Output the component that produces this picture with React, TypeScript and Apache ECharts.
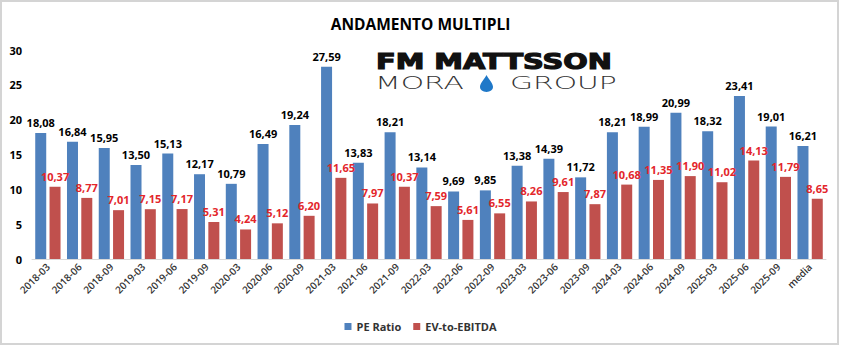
import React, { useEffect, useRef } from "react";
import * as echarts from "echarts";

const categories = [
  "2018-03", "2018-06", "2018-09", "2019-03", "2019-06", "2019-09",
  "2020-03", "2020-06", "2020-09", "2021-03", "2021-06", "2021-09",
  "2022-03", "2022-06", "2022-09", "2023-03", "2023-06", "2023-09",
  "2024-03", "2024-06", "2024-09", "2025-03", "2025-06", "2025-09", "media",
];
const peRatio = [
  18.08, 16.84, 15.95, 13.5, 15.13, 12.17, 10.79, 16.49, 19.24, 27.59, 13.83, 18.21,
  13.14, 9.69, 9.85, 13.38, 14.39, 11.72, 18.21, 18.99, 20.99, 18.32, 23.41, 19.01, 16.21,
];
const evEbitda = [
  10.37, 8.77, 7.01, 7.15, 7.17, 5.31, 4.24, 5.12, 6.2, 11.65, 7.97, 10.37,
  7.59, 5.61, 6.55, 8.26, 9.61, 7.87, 10.68, 11.35, 11.9, 11.02, 14.13, 11.79, 8.65,
];
const seriesNames = ["PE Ratio", "EV-to-EBITDA"];
const titleText = "ANDAMENTO MULTIPLI";

const dropPath =
  "M5,0 C3.5,3.5 0,7 0,10.5 C0,13.3 2.2,15 5,15 C7.8,15 10,13.3 10,10.5 C10,7 6.5,3.5 5,0 Z";

const fmt = (v: number) => v.toFixed(2).replace(".", ",");

export default function App() {
  const ref = useRef<HTMLDivElement>(null);
  useEffect(() => {
    document.body.style.margin = "0";
    try {
      echarts.graphic.registerShape("drop", echarts.graphic.extendPath(dropPath, {}));
    } catch (e) {}
    const chart = echarts.init(ref.current!, null, { renderer: "svg" });
    const font = "'Open Sans', 'Liberation Sans', sans-serif";
    chart.setOption({
      animation: false,
      backgroundColor: "#ffffff",
      title: {
        text: titleText,
        left: "center",
        top: 11,
        textStyle: { fontFamily: font, fontSize: 15.5, fontWeight: "bold", color: "#000" },
      },
      legend: {
        data: seriesNames,
        bottom: 9,
        left: "center",
        itemWidth: 7,
        itemHeight: 7,
        itemGap: 12,
        icon: "rect",
        textStyle: { fontFamily: font, fontSize: 11, fontWeight: "bold", color: "#333" },
      },
      grid: { left: 32, right: 15, top: 50, bottom: 87, containLabel: false },
      xAxis: {
        type: "category",
        data: categories,
        axisLine: { lineStyle: { color: "#d9d9d9", width: 1 } },
        axisTick: { show: false },
        axisLabel: {
          interval: 0,
          rotate: 45,
          fontFamily: font,
          fontSize: 10,
          fontWeight: 600,
          color: "#333",
          margin: 6,
        },
      },
      yAxis: {
        type: "value",
        min: 0,
        max: 30,
        interval: 5,
        splitLine: { show: false },
        axisLine: { show: false },
        axisTick: { show: false },
        axisLabel: { fontFamily: font, fontSize: 11, fontWeight: "bold", color: "#000", margin: 10 },
      },
      series: [
        {
          name: seriesNames[0],
          type: "bar",
          data: peRatio,
          barWidth: 11,
          barGap: "30%",
          itemStyle: { color: "#4f81bd" },
          label: {
            show: true,
            position: "top",
            distance: 5,
            formatter: (p: any) => fmt(p.value),
            fontFamily: font,
            fontSize: 11,
            fontWeight: "bold",
            color: "#000",
          },
        },
        {
          name: seriesNames[1],
          type: "bar",
          data: evEbitda,
          barWidth: 11,
          itemStyle: { color: "#c0504d" },
          label: {
            show: true,
            position: "top",
            distance: 5,
            formatter: (p: any) => fmt(p.value),
            fontFamily: font,
            fontSize: 11,
            fontWeight: "bold",
            color: "#e3262b",
          },
        },
      ],
      graphic: [
        {
          type: "rect",
          silent: true,
          shape: { x: 1, y: 1, width: 837, height: 343 },
          style: { fill: "none", stroke: "#d4d4d4", lineWidth: 2 },
        },
        {
          type: "text",
          x: 376,
          y: 50,
          scaleX: 1.31,
          style: {
            text: "FM MATTSSON",
            fontFamily: "'DejaVu Sans', sans-serif",
            fontWeight: "bold",
            fontSize: 22,
            fill: "#111",
            stroke: "#111",
            lineWidth: 1.2,
          },
        },
        {
          type: "text",
          x: 375,
          y: 74,
          scaleX: 1.7,
          style: {
            text: "MORA",
            fontFamily: "'DejaVu Sans', sans-serif",
            fontWeight: 200,
            fontSize: 17.5,
            fill: "#333",
          },
        },
        {
          type: "drop",
          x: 480,
          y: 75,
          scaleX: 1.3,
          scaleY: 1.13,
          style: { fill: "#1f78c8" },
        },
        {
          type: "text",
          x: 510,
          y: 74,
          scaleX: 1.7,
          style: {
            text: "GROUP",
            fontFamily: "'DejaVu Sans', sans-serif",
            fontWeight: 200,
            fontSize: 17.5,
            fill: "#333",
          },
        },
      ],
    });
    return () => chart.dispose();
  }, []);
  return <div ref={ref} style={{ width: 841, height: 346 }} />;
}
